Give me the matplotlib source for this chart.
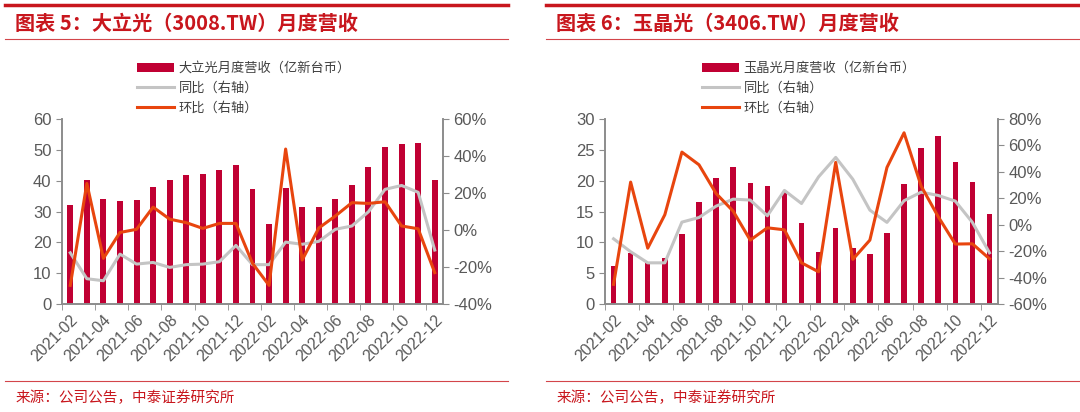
import matplotlib.pyplot as plt
import numpy as np
from matplotlib.lines import Line2D
from matplotlib.ticker import FuncFormatter

plt.rcParams['font.family'] = ['Noto Sans CJK SC', 'DejaVu Sans']

months = ['2021-02', '2021-03', '2021-04', '2021-05', '2021-06', '2021-07',
          '2021-08', '2021-09', '2021-10', '2021-11', '2021-12', '2022-01',
          '2022-02', '2022-03', '2022-04', '2022-05', '2022-06', '2022-07',
          '2022-08', '2022-09', '2022-10', '2022-11', '2022-12']

# 大立光 3008.TW
largan_rev = [32.0, 40.1, 34.0, 33.5, 33.8, 38.0, 40.1, 41.8, 42.2, 43.5, 45.0, 37.2,
              26.1, 37.5, 31.4, 31.6, 34.0, 38.7, 44.4, 51.1, 52.0, 52.2, 40.1]
largan_yoy = [-12.3, -26.3, -27.4, -13.0, -18.4, -17.5, -20.2, -18.7, -18.4, -17.1, -8.3, -18.7,
              -18.7, -6.5, -7.7, -6.1, 0.4, 2.2, 9.9, 22.0, 24.1, 20.4, -10.8]
largan_mom = [-29.9, 25.2, -15.3, -1.3, 0.4, 12.4, 5.9, 4.0, 0.9, 3.6, 3.6, -18.0,
              -29.9, 43.8, -16.2, 1.1, 7.6, 14.8, 14.4, 15.3, 2.2, 0.7, -23.0]

# 玉晶光 3406.TW
gseo_rev = [6.2, 8.2, 6.8, 7.4, 11.3, 16.5, 20.4, 22.2, 19.6, 19.2, 18.2, 13.1,
            8.4, 12.4, 9.1, 8.1, 11.5, 19.5, 25.3, 27.3, 23.1, 19.8, 14.6]
gseo_yoy = [-10.6, -20.4, -28.8, -28.8, 2.0, 5.5, 14.1, 19.4, 18.7, 6.8, 26.0, 16.1,
            36.3, 51.0, 34.5, 11.1, 1.8, 18.2, 24.7, 22.2, 17.9, 1.8, -21.2]
gseo_mom = [-45.1, 32.3, -17.7, 7.6, 55.0, 45.4, 23.7, 10.3, -11.6, -2.3, -3.8, -28.8,
            -35.6, 47.2, -26.2, -11.6, 43.4, 69.6, 29.3, 6.1, -14.6, -14.4, -25.7]

BAR = '#C00033'
ORANGE = '#E8450E'
GREY = '#C4C4C4'
AXIS = '#8C8C8C'
TXT = '#595959'
RED = '#C8161D'
NUMFONT = ['Liberation Sans', 'DejaVu Sans']

fig = plt.figure(figsize=(10.8, 4.12), dpi=100)


def panel(rect, rev, yoy, mom, name, ylim, yticks, rlim, rticks, barw, legx):
    x = np.arange(len(months))
    ax = fig.add_axes(rect)
    ax.bar(x, rev, width=barw, color=BAR, label=name + '月度营收（亿新台币）', zorder=2)
    ax.set_xlim(-0.5, len(months) - 0.5)
    ax.set_ylim(*ylim)
    ax.set_yticks(yticks)
    ax2 = ax.twinx()
    l1, = ax2.plot(x, yoy, color=GREY, lw=2.2, label='同比（右轴）')
    l2, = ax2.plot(x, mom, color=ORANGE, lw=2.2, label='环比（右轴）')
    ax2.set_ylim(*rlim)
    ax2.set_yticks(rticks)
    ax2.yaxis.set_major_formatter(FuncFormatter(lambda v, p: '%d%%' % v))

    ax.set_xticks(x[::2])
    ax.set_xticklabels(months[::2], rotation=45, ha='right', rotation_mode='anchor')
    ax.set_xticks(np.arange(-0.5, len(months), 2), minor=True)
    ax.tick_params(axis='x', which='major', length=0, pad=6)
    ax.tick_params(axis='x', which='minor', length=4, color=AXIS)

    for a in (ax, ax2):
        a.spines['top'].set_visible(False)
        for s in ('left', 'right', 'bottom'):
            a.spines[s].set_color(AXIS)
            a.spines[s].set_linewidth(1.2)
        a.tick_params(axis='y', colors=AXIS, labelcolor=TXT, labelsize=12, length=4)
        a.tick_params(axis='x', labelcolor=TXT, labelsize=11.5)
        for t in a.get_xticklabels() + a.get_yticklabels():
            t.set_fontfamily(NUMFONT)

    handles = [ax.containers[0], l1, l2]
    leg = ax.legend(handles, [h.get_label() for h in handles], loc='lower left',
                    bbox_to_anchor=(legx, 0.99), frameon=False, fontsize=9.5,
                    handlelength=2.8, handleheight=0.6, labelspacing=0.5,
                    handletextpad=0.35, borderaxespad=0.1)
    for t in leg.get_texts():
        t.set_color('#404040')
    return ax


panel([0.0574, 0.262, 0.3528, 0.449], largan_rev, largan_yoy, largan_mom, '大立光',
      (0, 60), range(0, 61, 10), (-40, 60), range(-40, 61, 20), 0.36, 0.18)
panel([0.5602, 0.262, 0.3639, 0.449], gseo_rev, gseo_yoy, gseo_mom, '玉晶光',
      (0, 30), range(0, 31, 5), (-60, 80), range(-60, 81, 20), 0.32, 0.23)

# header / footer decoration
for x0, x1, title in [(0.005, 0.47, '图表 5：大立光（3008.TW）月度营收'),
                      (0.506, 1.0, '图表 6：玉晶光（3406.TW）月度营收')]:
    fig.add_artist(Line2D([x0, x1], [1 - 5 / 412, 1 - 5 / 412], color=RED, lw=2.5))
    fig.add_artist(Line2D([x0, x1], [1 - 39 / 412, 1 - 39 / 412], color=RED, lw=0.8, alpha=0.8))
    fig.add_artist(Line2D([x0, x1], [1 - 381 / 412, 1 - 381 / 412], color=RED, lw=0.8, alpha=0.8))
    fig.text(x0 + 0.009, 1 - 23 / 412, title, color=RED, fontsize=14.5, fontweight='bold',
             va='center', ha='left')
    fig.text(x0 + 0.009, 1 - 398 / 412, '来源：公司公告，中泰证券研究所', color=RED,
             fontsize=10.5, va='center', ha='left')

fig.savefig('out.png', dpi=100)
